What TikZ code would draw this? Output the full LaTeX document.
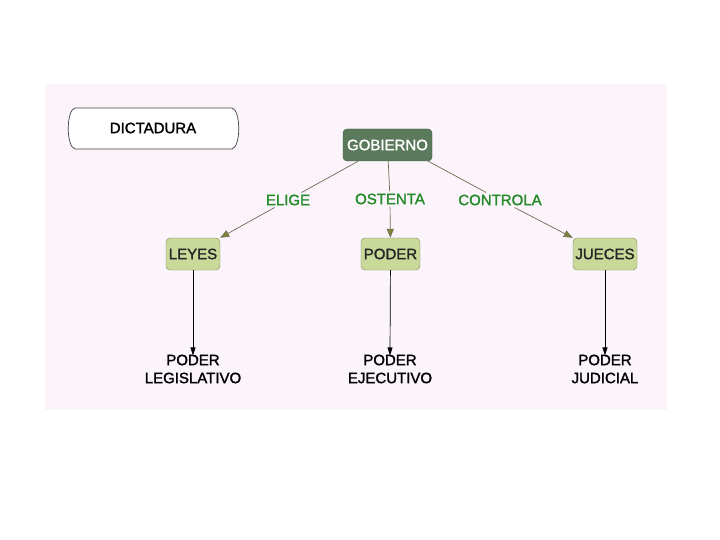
\documentclass[tikz,border=0pt]{standalone}
\usepackage{fontspec}
\setmainfont{Liberation Sans}[BoldFont=Liberation Sans, BoldFeatures={FakeBold=1.6}]
\usetikzlibrary{arrows.meta}
\definecolor{bgpink}{HTML}{FBF4FB}
\definecolor{darkbox}{HTML}{5B7A5B}
\definecolor{darkboxb}{HTML}{3E563E}
\definecolor{lightbox}{HTML}{C8D99A}
\definecolor{lightboxb}{HTML}{7D8C55}
\definecolor{lblgreen}{HTML}{258A2A}
\definecolor{connc}{HTML}{6E6E55}
\definecolor{tipc}{HTML}{7F8535}
\tikzset{
  txt/.style={font=\fontsize{15}{18}\selectfont\bfseries},
  darkconcept/.style={txt, draw=darkboxb, fill=darkbox, text=white, rounded corners=4pt, minimum width=89pt, minimum height=32pt, inner sep=2pt},
  lightconcept/.style={txt, draw=lightboxb, fill=lightbox, text=black!85, rounded corners=4pt, minimum height=32pt, inner sep=2pt},
  linklbl/.style={txt, text=lblgreen, inner sep=2pt},
  plain/.style={txt, align=center, inner sep=2pt, text=black},
  conn/.style={draw=connc, line width=0.7pt},
  connarrow/.style={conn, -{Triangle[length=9pt,width=7pt,fill=tipc]}},
  blackarrow/.style={draw=black, line width=0.7pt, -{Triangle[length=8pt,width=5pt]}}
}
\begin{document}
\begin{tikzpicture}[x=1pt,y=-1pt]
\useasboundingbox (0,0) rectangle (720,540);
\fill[bgpink] (45,84) rectangle (667,410);
% DICTADURA box
\draw[black!75, line width=0.7pt, fill=white]
  (75,108) -- (232,108) .. controls (241,110) and (241,147) .. (232,149)
  -- (75,149) .. controls (66,147) and (66,110) .. (75,108);
\node[txt, text=black, inner sep=0pt] (dict) at (153,128) {DICTADURA};
% concepts
\node[darkconcept] (gob) at (387.5,145) {GOBIERNO};
\node[lightconcept, minimum width=54pt] (leyes) at (193,254) {LEYES};
\node[lightconcept, minimum width=59pt] (poder) at (390.5,254) {PODER};
\node[lightconcept, minimum width=64pt] (jueces) at (605,254) {JUECES};
% link labels
\node[linklbl] (elige) at (288,200) {ELIGE};
\node[linklbl] (ostenta) at (390,199) {OSTENTA};
\node[linklbl] (controla) at (500,200) {CONTROLA};
% bottom texts
\node[plain] (pl) at (193,369) {PODER\\LEGISLATIVO};
\node[plain] (pe) at (390,369) {PODER\\EJECUTIVO};
\node[plain] (pj) at (605,369) {PODER\\JUDICIAL};
% connectors
\draw[conn] (gob) -- (elige);
\draw[connarrow] (elige) -- (leyes.north east);
\draw[conn] (gob) -- (ostenta);
\draw[connarrow] (ostenta) -- (poder);
\draw[conn] (gob.south east) ++(-4,0) coordinate (gse) (gse) -- (controla);
\draw[connarrow] (controla) -- (jueces.north west);
\draw[blackarrow] (leyes) -- ([yshift=-3pt]pl.north);
\draw[blackarrow] (poder) -- ([yshift=-3pt]pe.north);
\draw[blackarrow] (jueces) -- ([yshift=-3pt]pj.north);
\end{tikzpicture}
\end{document}
